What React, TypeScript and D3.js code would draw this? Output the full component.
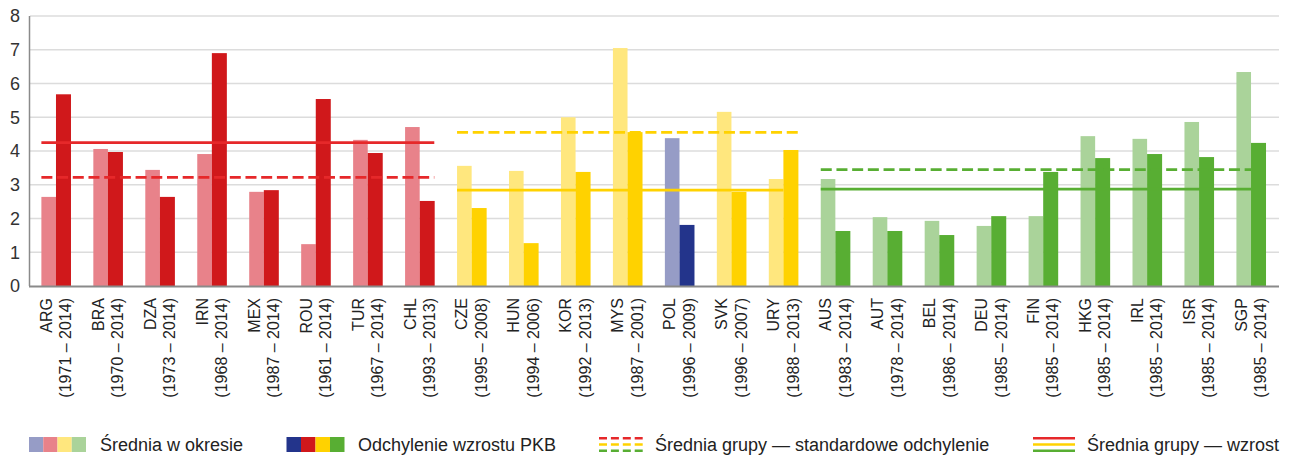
import React from 'react';
import * as d3 from 'd3';

const categories = ['ARG','BRA','DZA','IRN','MEX','ROU','TUR','CHL','CZE','HUN','KOR','MYS','POL','SVK','URY','AUS','AUT','BEL','DEU','FIN','HKG','IRL','ISR','SGP'];
const periods = ['(1971 – 2014)','(1970 – 2014)','(1973 – 2014)','(1968 – 2014)','(1987 – 2014)','(1961 – 2014)','(1967 – 2014)','(1993 – 2013)','(1995 – 2008)','(1994 – 2006)','(1992 – 2013)','(1987 – 2001)','(1996 – 2009)','(1996 – 2007)','(1988 – 2013)','(1983 – 2014)','(1978 – 2014)','(1986 – 2014)','(1985 – 2014)','(1985 – 2014)','(1985 – 2014)','(1985 – 2014)','(1985 – 2014)','(1985 – 2014)'];
const groups = ['red','red','red','red','red','red','red','red','yellow','yellow','yellow','yellow','blue','yellow','yellow','green','green','green','green','green','green','green','green','green'];
const meanValues = [2.64,4.06,3.44,3.91,2.79,1.24,4.33,4.71,3.56,3.41,5.0,7.05,4.38,5.16,3.17,3.17,2.04,1.93,1.78,2.07,4.44,4.36,4.86,6.34];
const deviationValues = [5.68,3.97,2.64,6.9,2.84,5.54,3.94,2.52,2.31,1.27,3.38,4.56,1.81,2.79,4.03,1.63,1.63,1.51,2.07,3.38,3.79,3.91,3.82,4.24];
const yTicks = [0,1,2,3,4,5,6,7,8];

// group average lines: [group, first category, last category, value]
const lineGroups = ['red','red','yellow','yellow','green','green'];
const lineKinds = ['solid','dashed','dashed','solid','dashed','solid'];
const lineFirst = ['ARG','ARG','CZE','CZE','AUS','AUS'];
const lineLast = ['CHL','CHL','URY','URY','SGP','SGP'];
const lineValues = [4.25,3.22,4.55,2.84,3.45,2.87];
const lineEndBar = ['dark','dark','dark','light','light','light'];

const legendLabels = ['Średnia w okresie','Odchylenie wzrostu PKB','Średnia grupy — standardowe odchylenie','Średnia grupy — wzrost'];

const lightColor: Record<string,string> = { blue:'#969cc6', red:'#e8828a', yellow:'#ffe77e', green:'#aad39a' };
const darkColor: Record<string,string> = { blue:'#23348b', red:'#d0181b', yellow:'#ffd200', green:'#58ae33' };
const lineColor: Record<string,string> = { red:'#e6282a', yellow:'#ffd200', green:'#58ae33' };

const FONT = '"Liberation Sans", Arial, Helvetica, sans-serif';

export default function App() {
  const W = 1296, H = 456;
  const x = d3.scaleBand<string>().domain(categories).range([30, 1277]);
  const y = d3.scaleLinear().domain([0, 8]).range([286, 16]);
  const bw = 14.6;
  const cx = (c: string) => (x(c) as number) + x.bandwidth() / 2;

  const legendOrder = ['blue','red','yellow','green'];

  return (
    <svg width={W} height={H} style={{ position: 'absolute', left: 0, top: 0, background: '#fff' }} fontFamily={FONT}>
      {/* gridlines */}
      {yTicks.filter(t => t > 0).map(t => (
        <line key={t} x1={30} x2={1279} y1={y(t)} y2={y(t)} stroke="#dcdcdc" strokeWidth={1.6} />
      ))}
      {/* tick labels */}
      {yTicks.map(t => (
        <text key={t} x={20} y={y(t)} dy="0.36em" textAnchor="end" fontSize={18} fill="#333">{t}</text>
      ))}
      {/* bars */}
      {categories.map((c, i) => (
        <g key={c}>
          <rect x={cx(c) - bw} y={y(meanValues[i])} width={bw} height={y(0) - y(meanValues[i])} fill={lightColor[groups[i]]} />
          <rect x={cx(c)} y={y(deviationValues[i])} width={bw + 0.4} height={y(0) - y(deviationValues[i])} fill={darkColor[groups[i]]} />
        </g>
      ))}
      {/* axes */}
      <line x1={29.5} x2={29.5} y1={16} y2={286} stroke="#8a8a8a" strokeWidth={1.5} />
      <line x1={29} x2={1279} y1={286.5} y2={286.5} stroke="#8a8a8a" strokeWidth={2} />
      {/* group lines */}
      {lineValues.map((v, i) => {
        const x1 = cx(lineFirst[i]) - bw;
        const x2 = lineEndBar[i] === 'dark' ? cx(lineLast[i]) + bw : cx(lineLast[i]);
        return (
          <line key={i} x1={x1} x2={x2} y1={y(v)} y2={y(v)} stroke={lineColor[lineGroups[i]]} strokeWidth={2.8}
            strokeDasharray={lineKinds[i] === 'dashed' ? '11,4.7' : undefined} />
        );
      })}
      {/* category labels */}
      {categories.map((c, i) => (
        <text key={c} transform={`translate(${cx(c)},298) rotate(-90)`} textAnchor="end" fontSize={16} fill="#222">
          <tspan x={0} y={-10 + 5.8}>{c}</tspan>
          <tspan x={0} y={9.5 + 5.8}>{periods[i]}</tspan>
        </text>
      ))}
      {/* legend */}
      <g>
        {legendOrder.map((g, k) => (
          <rect key={'l' + g} x={29 + k * 14.25} y={437} width={14.25} height={15} fill={lightColor[g]} />
        ))}
        <text x={100} y={451} fontSize={18} fill="#222">{legendLabels[0]}</text>
        {legendOrder.map((g, k) => (
          <rect key={'d' + g} x={286.5 + k * 14.5} y={437} width={14.5} height={15} fill={darkColor[g]} />
        ))}
        <text x={358} y={451} fontSize={18} fill="#222">{legendLabels[1]}</text>
        {['red','yellow','green'].map((g, k) => (
          <line key={'ds' + g} x1={599} x2={643} y1={438.3 + k * 6.2} y2={438.3 + k * 6.2} stroke={lineColor[g]} strokeWidth={2.6} strokeDasharray="8,3.9" />
        ))}
        <text x={655} y={451} fontSize={18} fill="#222">{legendLabels[2]}</text>
        {['red','yellow','green'].map((g, k) => (
          <line key={'so' + g} x1={1033} x2={1075} y1={438.3 + k * 6.2} y2={438.3 + k * 6.2} stroke={lineColor[g]} strokeWidth={2.6} />
        ))}
        <text x={1087} y={451} fontSize={18} fill="#222">{legendLabels[3]}</text>
      </g>
    </svg>
  );
}
